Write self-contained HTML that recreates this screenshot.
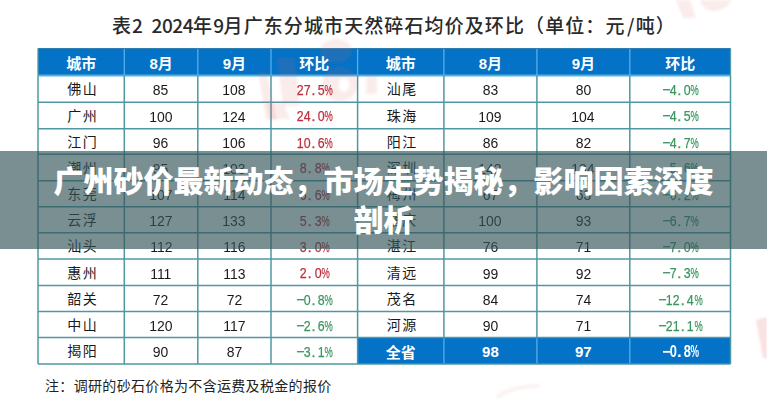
<!DOCTYPE html>
<html><head><meta charset="utf-8"><style>
html,body{margin:0;padding:0;background:#fff;}
body{width:767px;height:400px;position:relative;overflow:hidden;font-family:"Liberation Sans","Noto Sans CJK SC",sans-serif;}
.c{position:absolute;display:flex;align-items:center;justify-content:center;white-space:nowrap;box-sizing:border-box;padding-top:1px;}
.h{color:#fff;font-weight:700;font-size:15px;font-family:"Liberation Sans","Noto Sans CJK SC",sans-serif;}
.t{color:#1a1a1a;font-size:14px;font-family:"Noto Sans CJK SC",sans-serif;padding-top:0px;padding-bottom:1.2px;letter-spacing:1.5px;padding-left:3px;}
.n{color:#1a1a1a;font-size:15.5px;padding-top:3px;}
.n b{font-weight:400;display:inline-block;transform:scaleX(0.9);}
.p{font-size:15.5px;padding-top:2px;padding-right:1.6px;-webkit-text-stroke:0.25px currentColor;}
.p i{font-style:normal;display:inline-block;width:7.1px;text-align:center;transform:scaleX(0.8);}
.p i.pc{transform:scaleX(0.6);margin-left:-1px;margin-right:1px;}
.p i.m{transform:scaleX(0.92);}
.p i.d{text-align:left;text-indent:1.2px;transform:none;}
.pb{font-weight:700;-webkit-text-stroke:0;font-size:16px;}
.h.n{color:#fff;font-size:15px;padding-top:1px;}
.r{color:#bd2f3d;}
.g{color:#3b955f;}
#title{position:absolute;left:112px;top:10.5px;font-family:"Noto Sans CJK SC",sans-serif;font-weight:500;font-size:19px;letter-spacing:1.1px;color:#2a2a2a;white-space:nowrap;}
#title .dg{letter-spacing:-0.45px;}
#title .gp{display:inline-block;width:9px;}
#title .sl{display:inline-block;width:10.2px;text-align:center;letter-spacing:0;}
#note{position:absolute;left:45px;top:375px;font-family:"Noto Sans CJK SC",sans-serif;font-size:14px;letter-spacing:0.33px;color:#222;white-space:nowrap;}
#banner{position:absolute;left:0;top:151px;width:767px;height:98px;background:rgba(52,85,90,0.66);}
#btxt{position:absolute;left:0;top:150.3px;width:767px;height:98px;display:flex;align-items:center;justify-content:center;text-align:center;color:#fff;font-family:"Noto Sans CJK SC",sans-serif;font-weight:900;font-size:30px;line-height:39.5px;}
svg{position:absolute;left:0;top:0;}
</style></head><body>
<div id="title">表<span class="dg">2</span><span class="gp"></span><span class="dg">2024</span>年<span class="dg">9</span>月广东分城市天然碎石均价及环比（单位：元<span class="sl">/</span>吨）</div>
<svg width="767" height="400" viewBox="0 0 767 400"><rect x="38" y="48.5" width="692.5" height="27.0" fill="#0472c6"/><rect x="357.6" y="337.6" width="372.9" height="26.399999999999977" fill="#0472c6"/><line x1="38" y1="75.50" x2="730.5" y2="75.50" stroke="#56b0d8" stroke-width="2"/><line x1="38" y1="102.15" x2="730.5" y2="102.15" stroke="#4f97a2" stroke-width="1.5"/><line x1="38" y1="128.80" x2="730.5" y2="128.80" stroke="#4f97a2" stroke-width="1.5"/><line x1="38" y1="154.30" x2="730.5" y2="154.30" stroke="#4f97a2" stroke-width="1.5"/><line x1="38" y1="180.70" x2="730.5" y2="180.70" stroke="#4f97a2" stroke-width="1.5"/><line x1="38" y1="206.70" x2="730.5" y2="206.70" stroke="#4f97a2" stroke-width="1.5"/><line x1="38" y1="232.75" x2="730.5" y2="232.75" stroke="#4f97a2" stroke-width="1.5"/><line x1="38" y1="259.00" x2="730.5" y2="259.00" stroke="#4f97a2" stroke-width="1.5"/><line x1="38" y1="285.50" x2="730.5" y2="285.50" stroke="#4f97a2" stroke-width="1.5"/><line x1="38" y1="311.50" x2="730.5" y2="311.50" stroke="#4f97a2" stroke-width="1.5"/><line x1="38" y1="337.60" x2="730.5" y2="337.60" stroke="#4f97a2" stroke-width="1.5"/><line x1="38" y1="364.00" x2="730.5" y2="364.00" stroke="#4f97a2" stroke-width="1.5"/><line x1="38" y1="75.5" x2="38" y2="364.0" stroke="#4f97a2" stroke-width="1.5"/><line x1="38" y1="48.5" x2="38" y2="75.5" stroke="#4f97a2" stroke-width="1.3"/><line x1="124.3" y1="75.5" x2="124.3" y2="364.0" stroke="#4f97a2" stroke-width="1.5"/><line x1="124.3" y1="48.5" x2="124.3" y2="75.5" stroke="#56aeec" stroke-width="1.3"/><line x1="197.8" y1="75.5" x2="197.8" y2="364.0" stroke="#4f97a2" stroke-width="1.5"/><line x1="197.8" y1="48.5" x2="197.8" y2="75.5" stroke="#56aeec" stroke-width="1.3"/><line x1="271" y1="75.5" x2="271" y2="364.0" stroke="#4f97a2" stroke-width="1.5"/><line x1="271" y1="48.5" x2="271" y2="75.5" stroke="#56aeec" stroke-width="1.3"/><line x1="357.6" y1="75.5" x2="357.6" y2="364.0" stroke="#4f97a2" stroke-width="1.5"/><line x1="357.6" y1="48.5" x2="357.6" y2="75.5" stroke="#56aeec" stroke-width="1.3"/><line x1="443.9" y1="75.5" x2="443.9" y2="337.6" stroke="#4f97a2" stroke-width="1.5"/><line x1="443.9" y1="48.5" x2="443.9" y2="75.5" stroke="#56aeec" stroke-width="1.3"/><line x1="536.9" y1="75.5" x2="536.9" y2="337.6" stroke="#4f97a2" stroke-width="1.5"/><line x1="536.9" y1="48.5" x2="536.9" y2="75.5" stroke="#56aeec" stroke-width="1.3"/><line x1="629.8" y1="75.5" x2="629.8" y2="337.6" stroke="#4f97a2" stroke-width="1.5"/><line x1="629.8" y1="48.5" x2="629.8" y2="75.5" stroke="#56aeec" stroke-width="1.3"/><line x1="730.5" y1="75.5" x2="730.5" y2="364.0" stroke="#4f97a2" stroke-width="1.5"/><line x1="730.5" y1="48.5" x2="730.5" y2="75.5" stroke="#4f97a2" stroke-width="1.3"/><line x1="443.9" y1="338.40000000000003" x2="443.9" y2="363.2" stroke="#56aeec" stroke-width="1.3"/><line x1="536.9" y1="338.40000000000003" x2="536.9" y2="363.2" stroke="#56aeec" stroke-width="1.3"/><line x1="629.8" y1="338.40000000000003" x2="629.8" y2="363.2" stroke="#56aeec" stroke-width="1.3"/><line x1="38" y1="48.5" x2="730.5" y2="48.5" stroke="#2f7fb0" stroke-width="1.2"/><defs><filter id="wb" x="-20%" y="-20%" width="140%" height="140%"><feGaussianBlur stdDeviation="1.2"/></filter></defs><g fill="#e06060" fill-opacity="0.12" stroke="none" filter="url(#wb)"><polygon points="258,72 267,72 277,120 266,120"/><polygon points="277,58 295,58 300,106 283,106"/><polygon points="266,102 283,102 290,119 270,119"/><path fill-rule="evenodd" d="M322,84 a18,17 0 1,0 36,0 a18,17 0 1,0 -36,0 z M339,85 a5,7 0 1,0 10,0 a5,7 0 1,0 -10,0 z"/><ellipse cx="336" cy="51" rx="16" ry="12"/><polygon points="366,76 377,76 377,94 366,94"/><polygon points="676,0 690,0 696,18 683,18"/><path d="M700,0 L732,0 Q725,12 712,11 Q702,9 700,0 z"/><polygon points="756,320 767,317 767,358 763,358" fill-opacity="0.18"/><path d="M497,397 Q515,385 540,386" fill="none" stroke="#e06060" stroke-opacity="0.09" stroke-width="4"/></g></svg>
<div class="c h" style="left:38.00px;width:86.30px;top:48.50px;height:27.00px">城市</div><div class="c h" style="left:124.30px;width:73.50px;top:48.50px;height:27.00px">8月</div><div class="c h" style="left:197.80px;width:73.20px;top:48.50px;height:27.00px">9月</div><div class="c h" style="left:271.00px;width:86.60px;top:48.50px;height:27.00px">环比</div><div class="c h" style="left:357.60px;width:86.30px;top:48.50px;height:27.00px">城市</div><div class="c h" style="left:443.90px;width:93.00px;top:48.50px;height:27.00px">8月</div><div class="c h" style="left:536.90px;width:92.90px;top:48.50px;height:27.00px">9月</div><div class="c h" style="left:629.80px;width:100.70px;top:48.50px;height:27.00px">环比</div><div class="c t" style="left:38.00px;width:86.30px;top:75.50px;height:26.65px">佛山</div><div class="c n" style="left:124.30px;width:73.50px;top:75.50px;height:26.65px"><b>85</b></div><div class="c n" style="left:197.80px;width:73.20px;top:75.50px;height:26.65px"><b>108</b></div><div class="c p r" style="left:271.00px;width:86.60px;top:75.50px;height:26.65px"><i>2</i><i>7</i><i class="d">.</i><i>5</i><i class="pc">%</i></div><div class="c t" style="left:357.60px;width:86.30px;top:75.50px;height:26.65px">汕尾</div><div class="c n" style="left:443.90px;width:93.00px;top:75.50px;height:26.65px"><b>83</b></div><div class="c n" style="left:536.90px;width:92.90px;top:75.50px;height:26.65px"><b>80</b></div><div class="c p g" style="left:629.80px;width:100.70px;top:75.50px;height:26.65px"><i class="m">−</i><i>4</i><i class="d">.</i><i>0</i><i class="pc">%</i></div><div class="c t" style="left:38.00px;width:86.30px;top:102.15px;height:26.65px">广州</div><div class="c n" style="left:124.30px;width:73.50px;top:102.15px;height:26.65px"><b>100</b></div><div class="c n" style="left:197.80px;width:73.20px;top:102.15px;height:26.65px"><b>124</b></div><div class="c p r" style="left:271.00px;width:86.60px;top:102.15px;height:26.65px"><i>2</i><i>4</i><i class="d">.</i><i>0</i><i class="pc">%</i></div><div class="c t" style="left:357.60px;width:86.30px;top:102.15px;height:26.65px">珠海</div><div class="c n" style="left:443.90px;width:93.00px;top:102.15px;height:26.65px"><b>109</b></div><div class="c n" style="left:536.90px;width:92.90px;top:102.15px;height:26.65px"><b>104</b></div><div class="c p g" style="left:629.80px;width:100.70px;top:102.15px;height:26.65px"><i class="m">−</i><i>4</i><i class="d">.</i><i>5</i><i class="pc">%</i></div><div class="c t" style="left:38.00px;width:86.30px;top:128.80px;height:25.50px">江门</div><div class="c n" style="left:124.30px;width:73.50px;top:128.80px;height:25.50px"><b>96</b></div><div class="c n" style="left:197.80px;width:73.20px;top:128.80px;height:25.50px"><b>106</b></div><div class="c p r" style="left:271.00px;width:86.60px;top:128.80px;height:25.50px"><i>1</i><i>0</i><i class="d">.</i><i>6</i><i class="pc">%</i></div><div class="c t" style="left:357.60px;width:86.30px;top:128.80px;height:25.50px">阳江</div><div class="c n" style="left:443.90px;width:93.00px;top:128.80px;height:25.50px"><b>86</b></div><div class="c n" style="left:536.90px;width:92.90px;top:128.80px;height:25.50px"><b>82</b></div><div class="c p g" style="left:629.80px;width:100.70px;top:128.80px;height:25.50px"><i class="m">−</i><i>4</i><i class="d">.</i><i>7</i><i class="pc">%</i></div><div class="c t" style="left:38.00px;width:86.30px;top:154.30px;height:26.40px">潮州</div><div class="c n" style="left:124.30px;width:73.50px;top:154.30px;height:26.40px"><b>95</b></div><div class="c n" style="left:197.80px;width:73.20px;top:154.30px;height:26.40px"><b>103</b></div><div class="c p r" style="left:271.00px;width:86.60px;top:154.30px;height:26.40px"><i>8</i><i class="d">.</i><i>8</i><i class="pc">%</i></div><div class="c t" style="left:357.60px;width:86.30px;top:154.30px;height:26.40px">深圳</div><div class="c n" style="left:443.90px;width:93.00px;top:154.30px;height:26.40px"><b>142</b></div><div class="c n" style="left:536.90px;width:92.90px;top:154.30px;height:26.40px"><b>134</b></div><div class="c p g" style="left:629.80px;width:100.70px;top:154.30px;height:26.40px"><i class="m">−</i><i>5</i><i class="d">.</i><i>6</i><i class="pc">%</i></div><div class="c t" style="left:38.00px;width:86.30px;top:180.70px;height:26.00px">东莞</div><div class="c n" style="left:124.30px;width:73.50px;top:180.70px;height:26.00px"><b>107</b></div><div class="c n" style="left:197.80px;width:73.20px;top:180.70px;height:26.00px"><b>114</b></div><div class="c p r" style="left:271.00px;width:86.60px;top:180.70px;height:26.00px"><i>6</i><i class="d">.</i><i>6</i><i class="pc">%</i></div><div class="c t" style="left:357.60px;width:86.30px;top:180.70px;height:26.00px">梅州</div><div class="c n" style="left:443.90px;width:93.00px;top:180.70px;height:26.00px"><b>67</b></div><div class="c n" style="left:536.90px;width:92.90px;top:180.70px;height:26.00px"><b>63</b></div><div class="c p g" style="left:629.80px;width:100.70px;top:180.70px;height:26.00px"><i class="m">−</i><i>6</i><i class="d">.</i><i>2</i><i class="pc">%</i></div><div class="c t" style="left:38.00px;width:86.30px;top:206.70px;height:26.05px">云浮</div><div class="c n" style="left:124.30px;width:73.50px;top:206.70px;height:26.05px"><b>127</b></div><div class="c n" style="left:197.80px;width:73.20px;top:206.70px;height:26.05px"><b>133</b></div><div class="c p r" style="left:271.00px;width:86.60px;top:206.70px;height:26.05px"><i>5</i><i class="d">.</i><i>3</i><i class="pc">%</i></div><div class="c t" style="left:357.60px;width:86.30px;top:206.70px;height:26.05px">肇庆</div><div class="c n" style="left:443.90px;width:93.00px;top:206.70px;height:26.05px"><b>100</b></div><div class="c n" style="left:536.90px;width:92.90px;top:206.70px;height:26.05px"><b>93</b></div><div class="c p g" style="left:629.80px;width:100.70px;top:206.70px;height:26.05px"><i class="m">−</i><i>6</i><i class="d">.</i><i>7</i><i class="pc">%</i></div><div class="c t" style="left:38.00px;width:86.30px;top:232.75px;height:26.25px">汕头</div><div class="c n" style="left:124.30px;width:73.50px;top:232.75px;height:26.25px"><b>112</b></div><div class="c n" style="left:197.80px;width:73.20px;top:232.75px;height:26.25px"><b>116</b></div><div class="c p r" style="left:271.00px;width:86.60px;top:232.75px;height:26.25px"><i>3</i><i class="d">.</i><i>0</i><i class="pc">%</i></div><div class="c t" style="left:357.60px;width:86.30px;top:232.75px;height:26.25px">湛江</div><div class="c n" style="left:443.90px;width:93.00px;top:232.75px;height:26.25px"><b>76</b></div><div class="c n" style="left:536.90px;width:92.90px;top:232.75px;height:26.25px"><b>71</b></div><div class="c p g" style="left:629.80px;width:100.70px;top:232.75px;height:26.25px"><i class="m">−</i><i>7</i><i class="d">.</i><i>0</i><i class="pc">%</i></div><div class="c t" style="left:38.00px;width:86.30px;top:259.00px;height:26.50px">惠州</div><div class="c n" style="left:124.30px;width:73.50px;top:259.00px;height:26.50px"><b>111</b></div><div class="c n" style="left:197.80px;width:73.20px;top:259.00px;height:26.50px"><b>113</b></div><div class="c p r" style="left:271.00px;width:86.60px;top:259.00px;height:26.50px"><i>2</i><i class="d">.</i><i>0</i><i class="pc">%</i></div><div class="c t" style="left:357.60px;width:86.30px;top:259.00px;height:26.50px">清远</div><div class="c n" style="left:443.90px;width:93.00px;top:259.00px;height:26.50px"><b>99</b></div><div class="c n" style="left:536.90px;width:92.90px;top:259.00px;height:26.50px"><b>92</b></div><div class="c p g" style="left:629.80px;width:100.70px;top:259.00px;height:26.50px"><i class="m">−</i><i>7</i><i class="d">.</i><i>3</i><i class="pc">%</i></div><div class="c t" style="left:38.00px;width:86.30px;top:285.50px;height:26.00px">韶关</div><div class="c n" style="left:124.30px;width:73.50px;top:285.50px;height:26.00px"><b>72</b></div><div class="c n" style="left:197.80px;width:73.20px;top:285.50px;height:26.00px"><b>72</b></div><div class="c p g" style="left:271.00px;width:86.60px;top:285.50px;height:26.00px"><i class="m">−</i><i>0</i><i class="d">.</i><i>8</i><i class="pc">%</i></div><div class="c t" style="left:357.60px;width:86.30px;top:285.50px;height:26.00px">茂名</div><div class="c n" style="left:443.90px;width:93.00px;top:285.50px;height:26.00px"><b>84</b></div><div class="c n" style="left:536.90px;width:92.90px;top:285.50px;height:26.00px"><b>74</b></div><div class="c p g" style="left:629.80px;width:100.70px;top:285.50px;height:26.00px"><i class="m">−</i><i>1</i><i>2</i><i class="d">.</i><i>4</i><i class="pc">%</i></div><div class="c t" style="left:38.00px;width:86.30px;top:311.50px;height:26.10px">中山</div><div class="c n" style="left:124.30px;width:73.50px;top:311.50px;height:26.10px"><b>120</b></div><div class="c n" style="left:197.80px;width:73.20px;top:311.50px;height:26.10px"><b>117</b></div><div class="c p g" style="left:271.00px;width:86.60px;top:311.50px;height:26.10px"><i class="m">−</i><i>2</i><i class="d">.</i><i>6</i><i class="pc">%</i></div><div class="c t" style="left:357.60px;width:86.30px;top:311.50px;height:26.10px">河源</div><div class="c n" style="left:443.90px;width:93.00px;top:311.50px;height:26.10px"><b>90</b></div><div class="c n" style="left:536.90px;width:92.90px;top:311.50px;height:26.10px"><b>71</b></div><div class="c p g" style="left:629.80px;width:100.70px;top:311.50px;height:26.10px"><i class="m">−</i><i>2</i><i>1</i><i class="d">.</i><i>1</i><i class="pc">%</i></div><div class="c t" style="left:38.00px;width:86.30px;top:337.60px;height:26.40px">揭阳</div><div class="c n" style="left:124.30px;width:73.50px;top:337.60px;height:26.40px"><b>90</b></div><div class="c n" style="left:197.80px;width:73.20px;top:337.60px;height:26.40px"><b>87</b></div><div class="c p g" style="left:271.00px;width:86.60px;top:337.60px;height:26.40px"><i class="m">−</i><i>3</i><i class="d">.</i><i>1</i><i class="pc">%</i></div><div class="c h" style="left:357.60px;width:86.30px;top:337.60px;height:26.40px">全省</div><div class="c h n" style="left:443.90px;width:93.00px;top:337.60px;height:26.40px">98</div><div class="c h n" style="left:536.90px;width:92.90px;top:337.60px;height:26.40px">97</div><div class="c h p pb" style="left:629.80px;width:100.70px;top:337.60px;height:26.40px"><i class="m">−</i><i>0</i><i class="d">.</i><i>8</i><i class="pc">%</i></div>
<div id="note">注：调研的砂石价格为不含运费及税金的报价</div>
<div id="banner"></div>
<div id="btxt"><div>广州砂价最新动态，市场走势揭秘，影响因素深度<br>剖析</div></div>
</body></html>
